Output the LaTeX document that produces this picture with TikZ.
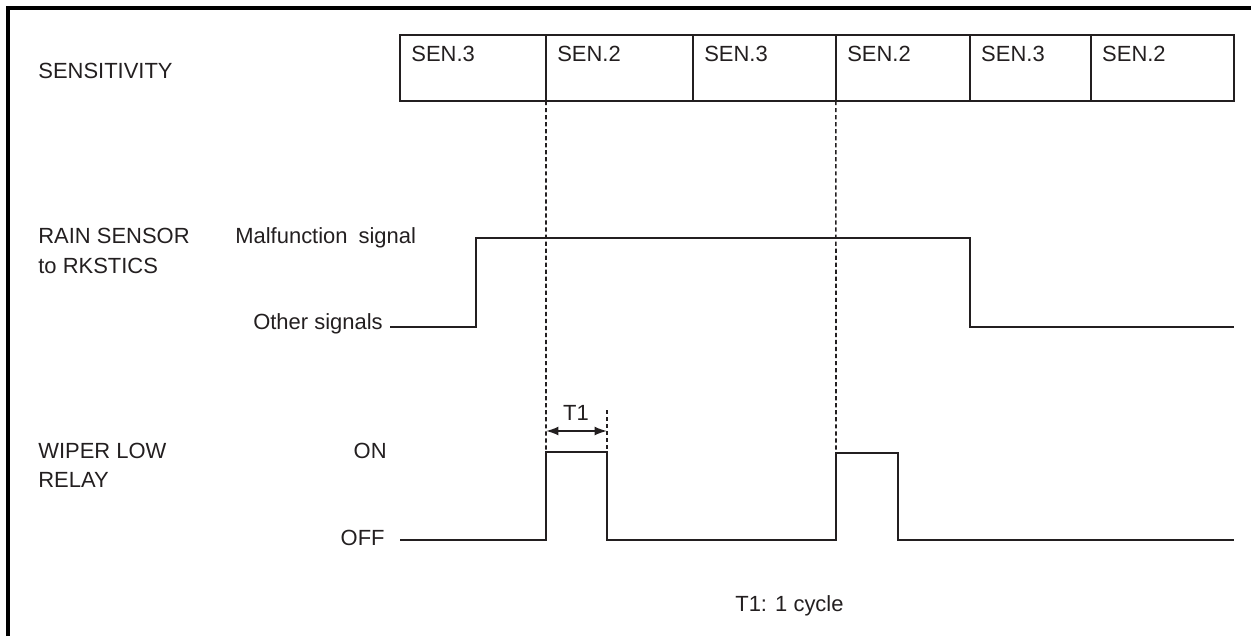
\documentclass[tikz,border=0pt]{standalone}
\usepackage{fontspec}
\setmainfont{Liberation Sans}
\usetikzlibrary{arrows.meta, positioning}
\definecolor{ink}{HTML}{231F20}

\begin{document}
\begin{tikzpicture}[x=0.02cm, y=-0.02cm, >={Latex[length=7pt,width=5pt]},
    font=\fontsize{12.5}{15}\selectfont, text=ink,
    txt/.style={inner sep=0, anchor=base west},
    txtr/.style={inner sep=0, anchor=base east},
    senbox/.style={draw=ink, line width=0.9pt, minimum height=1.32cm, inner sep=0, outer sep=0},
    sentext/.style={inner sep=0, anchor=base west, xshift=0.22cm, yshift=-0.54cm},
    sen/.style={senbox, label={[sentext]north west:#1}},
    wave/.style={draw=ink, line width=1.1pt},
    guide/.style={draw=ink, line width=0.9pt, dash pattern=on 2.4pt off 1.6pt}]
    \useasboundingbox (0,0) rectangle (1251,636);
    \draw[line width=1.8pt] (8,636) -- (8,8) -- (1251,8);

    % sensitivity row
    \node[txt] (sens) at (38,78) {SENSITIVITY};
    \node[sen=SEN.3, minimum width=2.92cm, anchor=north west] (sen1) at (400,35) {};
    \node[sen=SEN.2, minimum width=2.94cm, right=0pt of sen1] (sen2) {};
    \node[sen=SEN.3, minimum width=2.86cm, right=0pt of sen2] (sen3) {};
    \node[sen=SEN.2, minimum width=2.68cm, right=0pt of sen3] (sen4) {};
    \node[sen=SEN.3, minimum width=2.42cm, right=0pt of sen4] (sen5) {};
    \node[sen=SEN.2, minimum width=2.86cm, right=0pt of sen5] (sen6) {};

    % rain sensor row
    \node[txt] (rain) at (38,243) {RAIN SENSOR};
    \node[txt] (rain2) at (38,273) {to RKSTICS};
    \node[txt] (malf) at (235,243) {Malfunction\hspace{0.5em}signal};
    \node[txtr] (other) at (383,329) {Other signals};
    \draw[wave] (390,327) -- (476,327) -- (476,238) -- (970,238) -- (970,327) -- (1234,327);

    % wiper relay row
    \node[txt] (wiper) at (38,458) {WIPER LOW};
    \node[txt] (relay) at (38,487) {RELAY};
    \node[txtr] (on) at (387,458) {ON};
    \node[txtr] (off) at (385,545) {OFF};
    \draw[wave] (400,540) -- (546,540) -- (546,452) -- (607,452) -- (607,540)
      -- (836,540) -- (836,453) -- (898,453) -- (898,540) -- (1234,540);

    % timing guides
    \draw[guide] (sen2.south west) -- (546,470);
    \draw[guide] (sen4.south west) -- (836,452);
    \draw[guide] (607,410) -- (607,452);
    \draw[<->, draw=ink, line width=0.9pt] (546,431) -- (607,431);
    \node[inner sep=0, anchor=base] (t1) at (576,420) {T1};
    \node[txt] (cycle) at (735,611) {T1: 1 cycle};
\end{tikzpicture}
\end{document}
